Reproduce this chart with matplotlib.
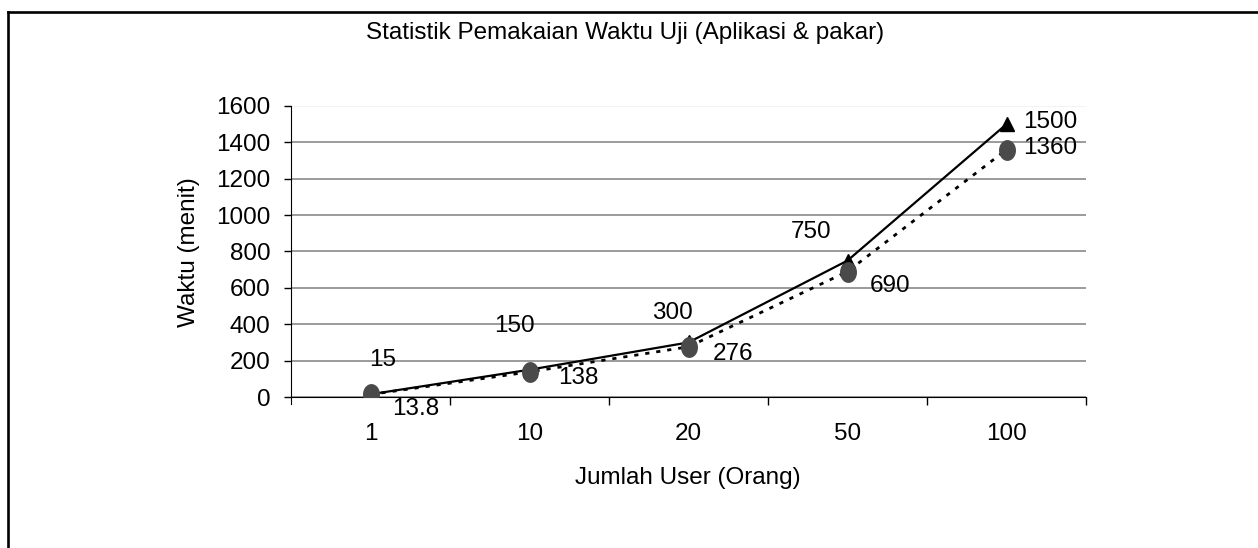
"""Statistik pemakaian waktu uji: aplikasi vs pakar (Excel-style line chart)."""
import matplotlib
matplotlib.use("Agg")
import matplotlib.pyplot as plt
import numpy as np
from matplotlib.lines import Line2D
from matplotlib.path import Path
from matplotlib.ticker import FixedLocator

plt.rcParams["font.family"] = ["Liberation Sans", "DejaVu Sans"]

# data
users = ["1", "10", "20", "50", "100"]
waktu_tri = [15, 150, 300, 750, 1500]
waktu_dot = [13.8, 138, 276, 690, 1360]
y_ticks = [0, 200, 400, 600, 800, 1000, 1200, 1400, 1600]

# label offsets in pixels (dx, dy)
off_tri = [(12, 34), (-15, 44), (-16, 29), (-36, 29), (44, 2)]
off_dot = [(45, -15), (49, -6), (44, -7), (43, -14), (44, 2)]

FS = 17.5

# slightly tall ellipse marker, like the reference
t = np.linspace(0, 2 * np.pi, 40)
ellipse = Path(np.column_stack([0.8 * np.cos(t), np.sin(t)]), closed=True)

W, H = 1258, 548
fig = plt.figure(figsize=(W / 100, H / 100), dpi=100)
fig.patch.set_facecolor("white")

# outer frame (only left and top edges visible in the crop)
fig.add_artist(Line2D([8 / W, 8 / W], [0, 1 - 12 / H], transform=fig.transFigure,
                      color="black", lw=1.9))
fig.add_artist(Line2D([8 / W, 1], [1 - 12 / H, 1 - 12 / H], transform=fig.transFigure,
                      color="black", lw=1.9))

x0, x1, yt, yb = 291, 1086, 106, 397
ax = fig.add_axes([x0 / W, 1 - yb / H, (x1 - x0) / W, (yb - yt) / H])

xs = list(range(len(users)))
ax.plot(xs, waktu_tri, color="black", lw=1.6, marker="^", ms=10.5,
        mfc="black", mec="black", zorder=3)
ax.plot(xs, waktu_dot, color="black", lw=2.0, ls=(0, (1.5, 2.5)), marker=ellipse,
        ms=14, mfc="#4a4a4a", mec="#4a4a4a", zorder=4)

for x, v, (dx, dy) in zip(xs, waktu_tri, off_tri):
    ax.annotate(f"{v:g}", (x, v), xytext=(dx, dy), textcoords="offset pixels",
                ha="center", va="center", fontsize=FS)
for x, v, (dx, dy) in zip(xs, waktu_dot, off_dot):
    ax.annotate(f"{v:g}", (x, v), xytext=(dx, dy), textcoords="offset pixels",
                ha="center", va="center", fontsize=FS)

ax.set_xlim(-0.5, len(users) - 0.5)
ax.set_ylim(0, 1600)
ax.set_yticks(y_ticks)
ax.set_yticklabels([str(t) for t in y_ticks], fontsize=FS)
ax.set_xticks(xs)
ax.set_xticklabels(users, fontsize=FS)
ax.xaxis.set_minor_locator(FixedLocator([i - 0.5 for i in range(1, len(users) + 1)]))
ax.tick_params(axis="x", which="major", length=0, pad=19)
ax.tick_params(axis="x", which="minor", length=6, width=1, direction="out")
ax.tick_params(axis="y", length=5, width=1, pad=10)

ax.yaxis.grid(True, color="#808080", lw=1.1)
ax.set_axisbelow(True)
ax.yaxis.get_gridlines()[-1].set_color("#f0f0f0")
for s in ("top", "right"):
    ax.spines[s].set_visible(False)
ax.spines["left"].set_color("black")
ax.spines["bottom"].set_color("black")
ax.spines["left"].set_bounds(-40, 1600)

fig.text(625 / W, 1 - 33 / H, "Statistik Pemakaian Waktu Uji (Aplikasi & pakar)",
         ha="center", va="center", fontsize=17.5)
fig.text(688 / W, 1 - 478 / H, "Jumlah User (Orang)", ha="center", va="center",
         fontsize=FS)
fig.text(189 / W, 1 - 252 / H, "Waktu (menit)", ha="center", va="center",
         rotation=90, fontsize=FS)

fig.savefig("out.png", dpi=100)
